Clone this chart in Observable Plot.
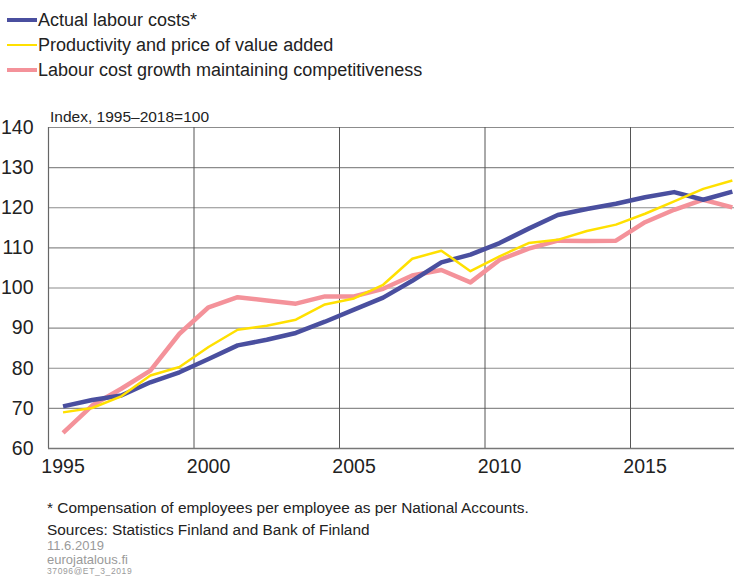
<!DOCTYPE html>
<html>
<head>
<meta charset="utf-8">
<script src="https://cdn.jsdelivr.net/npm/d3@7"></script>
<script src="https://cdn.jsdelivr.net/npm/@observablehq/plot@0.6"></script>
<style>
  html, body { margin: 0; padding: 0; background: #fff; }
  body { width: 734px; height: 577px; position: relative; overflow: hidden; font-family: "Liberation Sans", Arial, sans-serif; color: #222; }
  #chart { position: absolute; left: 0; top: 0; }
  .leg { position: absolute; left: 0; height: 24px; display: flex; align-items: center; font-size: 18px; white-space: nowrap; }
  .sw { display: inline-block; width: 30px; margin-left: 7px; margin-right: 1px; }
  .note { position: absolute; left: 47px; white-space: nowrap; }
  .idx { position: absolute; left: 50px; top: 108px; font-size: 15.5px; white-space: nowrap; }
</style>
</head>
<body>
<div id="chart"></div>
<div id="legend"></div>
<div class="idx">Index, 1995–2018=100</div>
<div class="note" style="top:499px;font-size:15.4px;line-height:18px;color:#222">* Compensation of employees per employee as per National Accounts.</div>
<div class="note" style="top:521px;font-size:15.4px;line-height:18px;color:#222">Sources: Statistics Finland and Bank of Finland</div>
<div class="note" style="top:539px;font-size:13px;line-height:13px;color:#9a9a9a">11.6.2019</div>
<div class="note" style="top:553px;font-size:13px;line-height:13px;color:#9a9a9a">eurojatalous.fi</div>
<div class="note" style="top:567px;font-size:8.5px;line-height:9px;color:#9a9a9a;letter-spacing:0.6px">37096@ET_3_2019</div>
<script>
const years = [1995,1996,1997,1998,1999,2000,2001,2002,2003,2004,2005,2006,2007,2008,2009,2010,2011,2012,2013,2014,2015,2016,2017,2018];
const actual = [70.5,72.1,73.2,76.5,79.0,82.3,85.7,87.1,88.8,91.6,94.6,97.6,101.8,106.4,108.3,111.2,114.8,118.2,119.7,121.0,122.6,123.9,122.0,124.0];
const productivity = [69.0,70.1,73.0,78.2,80.3,85.3,89.6,90.6,92.1,95.9,97.4,100.8,107.3,109.3,104.2,107.9,111.2,112.0,114.2,115.8,118.5,121.6,124.7,126.8];
const competitiveness = [63.9,70.7,74.9,79.4,88.6,95.2,97.7,96.9,96.1,97.9,97.9,99.8,103.1,104.5,101.4,107.0,109.8,111.8,111.7,111.8,116.4,119.5,122.0,120.1];
const seriesNames = ["Actual labour costs*", "Productivity and price of value added", "Labour cost growth maintaining competitiveness"];
const seriesColors = ["#4a4f9f", "#ffe000", "#f4929a"];
const seriesWidths = [4.5, 2.5, 4.5];
const yTicks = [60,70,80,90,100,110,120,130,140];
const xTickLabels = [1995,2000,2005,2010,2015];
const xGrid = [1999.5,2004.5,2009.5,2014.5];

const seriesValues = [actual, productivity, competitiveness];
const rows = seriesNames.map((name, s) => years.map((yr, i) => ({year: yr, value: seriesValues[s][i], series: name})));

// Legend (HTML)
const legend = document.getElementById("legend");
seriesNames.forEach((name, i) => {
  const d = document.createElement("div");
  d.className = "leg";
  d.style.top = (8 + i * 25) + "px";
  d.innerHTML = `<span class="sw" style="border-top:${i===1?2.5:4}px solid ${seriesColors[i]}"></span><span>${name}</span>`;
  legend.appendChild(d);
});

const drawOrder = [2, 0, 1];
const chart = Plot.plot({
  width: 734,
  height: 577,
  marginTop: 127,
  marginBottom: 129,
  marginLeft: 48,
  marginRight: 0,
  style: {fontFamily: "Liberation Sans, Arial, sans-serif", background: "transparent", overflow: "hidden"},
  x: {type: "linear", domain: [1994.5, 1994.5 + 686 / 29.1]},
  y: {domain: [60, 140]},
  marks: [
    Plot.ruleY(yTicks, {stroke: "#8c8c8c", strokeWidth: 1.2}),
    Plot.ruleX(xGrid, {stroke: "#555", strokeWidth: 1}),
    Plot.ruleX([1994.5], {stroke: "#666", strokeWidth: 1.2}),
    Plot.ruleY([60], {stroke: "#777", strokeWidth: 1.3}),
    Plot.axisY({ticks: yTicks, tickSize: 0, tickPadding: 15, fontSize: 19.5, fill: "#222", label: null}),
    Plot.axisX({ticks: xTickLabels, tickSize: 0, tickPadding: 11, fontSize: 19.5, fill: "#222", label: null, tickFormat: d => String(d)}),
    ...drawOrder.map(s => Plot.line(rows[s], {x: "year", y: "value", stroke: seriesColors[s], strokeWidth: seriesWidths[s], strokeLinejoin: "round", strokeLinecap: "butt"}))
  ]
});
document.getElementById("chart").appendChild(chart);
</script>
</body>
</html>
